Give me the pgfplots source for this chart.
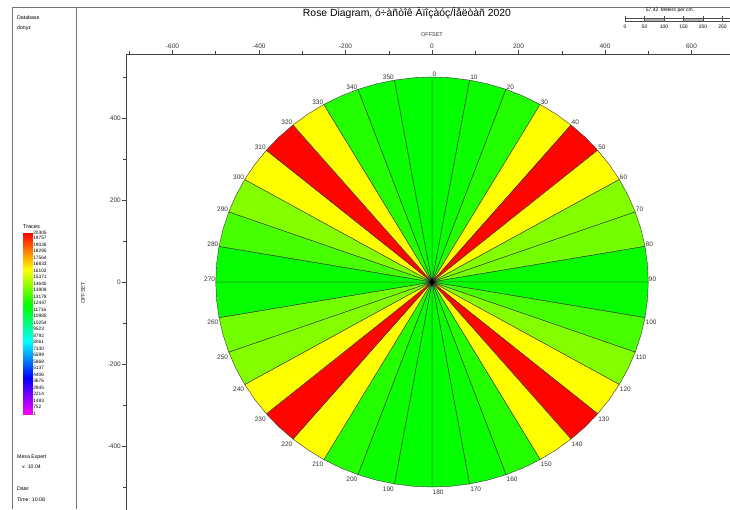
\documentclass[border=0pt]{standalone}
\usepackage{fontspec}
\setmainfont{Liberation Sans}
\usepackage{pgfplots}
\usepackage{pgfplotstable}
\pgfplotsset{compat=1.18}
\usepgfplotslibrary{patchplots,polar}
\newcommand\fs[1]{\fontsize{#1}{#1}\selectfont}
\pgfplotsset{
  /pgf/number format/assume math mode=true,
  scaled ticks=false,
  colormap={mesa}{rgb255=(255,0,255) rgb255=(0,0,255) rgb255=(0,255,255) rgb255=(0,255,0) rgb255=(255,255,0) rgb255=(255,0,0)},
}
% sectors: polar angle (math convention), radius, traces
\pgfplotstableread{
a r v
0 0 12200
90 500 12200
85 500 12200
80 500 12200
0 0 12350
80 500 12350
75 500 12350
70 500 12350
0 0 12750
70 500 12750
65 500 12750
60 500 12750
0 0 16250
60 500 16250
55 500 16250
50 500 16250
0 0 20200
50 500 20200
45 500 20200
40 500 20200
0 0 16250
40 500 16250
35 500 16250
30 500 16250
0 0 14250
30 500 14250
25 500 14250
20 500 14250
0 0 14000
20 500 14000
15 500 14000
10 500 14000
0 0 12250
10 500 12250
5 500 12250
0 500 12250
0 0 12250
0 500 12250
-5 500 12250
-10 500 12250
0 0 13300
-10 500 13300
-15 500 13300
-20 500 13300
0 0 14250
-20 500 14250
-25 500 14250
-30 500 14250
0 0 16250
-30 500 16250
-35 500 16250
-40 500 16250
0 0 20200
-40 500 20200
-45 500 20200
-50 500 20200
0 0 16250
-50 500 16250
-55 500 16250
-60 500 16250
0 0 12750
-60 500 12750
-65 500 12750
-70 500 12750
0 0 12350
-70 500 12350
-75 500 12350
-80 500 12350
0 0 12200
-80 500 12200
-85 500 12200
-90 500 12200
0 0 12200
-90 500 12200
-95 500 12200
-100 500 12200
0 0 12350
-100 500 12350
-105 500 12350
-110 500 12350
0 0 12750
-110 500 12750
-115 500 12750
-120 500 12750
0 0 16250
-120 500 16250
-125 500 16250
-130 500 16250
0 0 20200
-130 500 20200
-135 500 20200
-140 500 20200
0 0 16250
-140 500 16250
-145 500 16250
-150 500 16250
0 0 14250
-150 500 14250
-155 500 14250
-160 500 14250
0 0 14000
-160 500 14000
-165 500 14000
-170 500 14000
0 0 12250
-170 500 12250
-175 500 12250
-180 500 12250
0 0 12250
-180 500 12250
-185 500 12250
-190 500 12250
0 0 13300
-190 500 13300
-195 500 13300
-200 500 13300
0 0 14250
-200 500 14250
-205 500 14250
-210 500 14250
0 0 16250
-210 500 16250
-215 500 16250
-220 500 16250
0 0 20200
-220 500 20200
-225 500 20200
-230 500 20200
0 0 16250
-230 500 16250
-235 500 16250
-240 500 16250
0 0 12750
-240 500 12750
-245 500 12750
-250 500 12750
0 0 12350
-250 500 12350
-255 500 12350
-260 500 12350
0 0 12200
-260 500 12200
-265 500 12200
-270 500 12200
}\sectors

\begin{document}
\begin{tikzpicture}
\useasboundingbox (0,0) rectangle (730pt,-509pt);
\clip (0,0) rectangle (730pt,-509pt);
\fill[white] (0,0) rectangle (730pt,-509pt);

% frame lines
\draw[black!55, line width=0.6pt] (12pt,-509pt) -- (12pt,-7pt) -- (730pt,-7pt);
\draw[black!55, line width=0.6pt] (76pt,-7pt) -- (76pt,-509pt);

% left panel
\node[anchor=west, inner sep=0pt, font=\fs{5.2}] at (17pt,-17.3pt) {Database};
\node[anchor=west, inner sep=0pt, font=\fs{5.2}] at (17pt,-28.3pt) {donyz};
\node[anchor=west, inner sep=0pt, font=\fs{5.2}] at (17pt,-457pt) {Mesa Expert};
\node[anchor=west, inner sep=0pt, font=\fs{5.2}] at (22pt,-467pt) {v. 10.04};
\node[anchor=west, inner sep=0pt, font=\fs{5.2}] at (17pt,-489pt) {Date:};
\node[anchor=west, inner sep=0pt, font=\fs{5.2}] at (17pt,-499.5pt) {Time: 10:08};
\node[inner sep=0pt, font=\fs{5.5}] at (31.5pt,-227pt) {Traces};

% title
\node[inner sep=0pt, font=\fs{10.4}] at (407pt,-13pt) {Rose Diagram, ó÷àñòîê Àïîçàóç/Ìåëòàñ 2020};
% axis labels
\node[inner sep=0pt, font=\fs{5.5}, text=black!80] at (432pt,-35pt) {OFFSET};
\node[inner sep=0pt, font=\fs{5.5}, text=black!80, rotate=90] at (83pt,-293pt) {OFFSET};

% scale bar
\node[inner sep=0pt, font=\fs{5}] at (670pt,-10pt) {57.42\enspace Meters per cm.};
\fill[black!30] (644.5pt,-18pt) rectangle (664pt,-21.5pt);
\fill[black!30] (683.5pt,-18pt) rectangle (703pt,-21.5pt);
\draw[black!70, line width=0.4pt] (625pt,-18pt) rectangle (745pt,-21.5pt);
\foreach \i/\t in {0/0,1/50,2/100,3/150,4/200,5/250}{
  \draw[black!70, line width=0.4pt] ({625pt+\i*19.5pt},-16pt) -- ({625pt+\i*19.5pt},-21.5pt);
  \node[inner sep=0pt, font=\fs{5}] at ({625pt+\i*19.5pt},-26.5pt) {\t};
}

% colour scale
\begin{axis}[
  at={(22.5pt,-414pt)}, anchor=south west,
  scale only axis, width=10.2pt, height=181pt,
  xmin=0, xmax=1, ymin=1, ymax=20305,
  colormap name=mesa, point meta min=1, point meta max=20305,
  hide x axis, axis line style={draw=none},
  ytick={1,752,1483,2214,2945,3676,4406,5137,5868,6599,7330,8061,8792,9523,10254,10985,11716,12447,13178,13909,14640,15371,16102,16833,17564,18295,19026,19757,20305},
  yticklabel pos=right, ytick pos=right, major tick length=0pt,
  scaled y ticks=false,
  yticklabel style={font=\fs{4.8}, inner sep=0.4pt, /pgf/number format/1000 sep={}},
  clip=false,
]
\addplot[patch, shader=interp, point meta=y] coordinates {(0,1) (1,1) (1,20305) (0,1) (1,20305) (0,20305)};
\end{axis}

% main rose
\begin{axis}[
  at={(126pt,-54pt)}, anchor=north west,
  scale only axis, width=634.7pt, height=474pt,
  xmin=-707.5, xmax=760, ymin=-600, ymax=556.1,
  axis line style={black!75, line width=0.5pt},
  xtick={-600,-400,...,600}, minor xtick={-700,-500,...,700},
  ytick={-400,-200,...,400}, minor ytick={-500,-300,...,500},
  xtick pos=right, xticklabel pos=right, ytick pos=left,
  tick align=outside, major tick length=4pt, minor tick length=3pt,
  tick style={black!75, line width=0.5pt},
  ticklabel style={font=\fs{6.5}, text=black!80, inner sep=1pt},
  colormap name=mesa, point meta min=1, point meta max=20305,
]
\addplot[patch, patch type=polygon, vertex count=4, shader=faceted, faceted color=black!80, line width=0.4pt, data cs=polar, point meta=explicit]
  table[x=a, y=r, meta=v] {\sectors};
\addplot[only marks, mark=diamond*, mark size=3.6pt, black] coordinates {(0,0)};
% angle labels
\addplot[draw=none, data cs=polar, point meta=explicit symbolic, nodes near coords,
  nodes near coords style={anchor=west, yshift=2.5pt, font=\fs{6.5}, text=black!80, inner sep=0.5pt}]
  table[x=a, y=r, meta=l] {
a r l
90 500 0
80 500 10
70 500 20
60 500 30
50 500 40
40 500 50
30 500 60
20 500 70
10 500 80
0 500 90
};
\addplot[draw=none, data cs=polar, point meta=explicit symbolic, nodes near coords,
  nodes near coords style={anchor=west, yshift=-5pt, font=\fs{6.5}, text=black!80, inner sep=0.5pt}]
  table[x=a, y=r, meta=l] {
a r l
-10 500 100
-20 500 110
-30 500 120
-40 500 130
-50 500 140
-60 500 150
-70 500 160
-80 500 170
-90 500 180
};
\addplot[draw=none, data cs=polar, point meta=explicit symbolic, nodes near coords,
  nodes near coords style={anchor=east, yshift=-5pt, font=\fs{6.5}, text=black!80, inner sep=0.5pt}]
  table[x=a, y=r, meta=l] {
a r l
-100 500 190
-110 500 200
-120 500 210
-130 500 220
-140 500 230
-150 500 240
-160 500 250
-170 500 260
};
\addplot[draw=none, data cs=polar, point meta=explicit symbolic, nodes near coords,
  nodes near coords style={anchor=east, yshift=2.5pt, font=\fs{6.5}, text=black!80, inner sep=0.5pt}]
  table[x=a, y=r, meta=l] {
a r l
-180 500 270
-190 500 280
-200 500 290
-210 500 300
-220 500 310
-230 500 320
-240 500 330
-250 500 340
-260 500 350
};
\end{axis}
\end{tikzpicture}
\end{document}
